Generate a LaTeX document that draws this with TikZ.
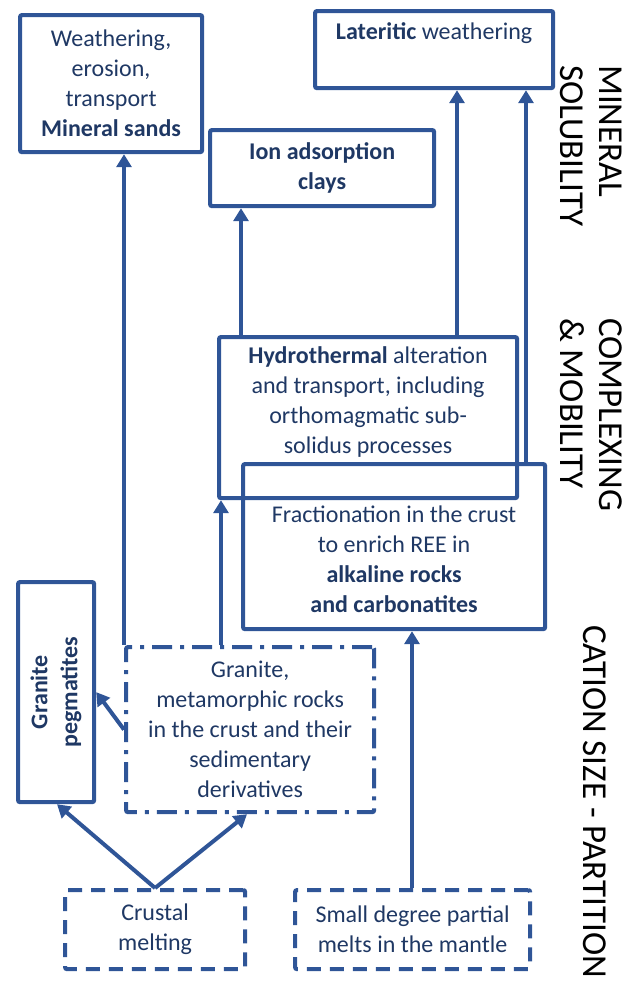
\documentclass[tikz,border=0pt]{standalone}
\usepackage{fontspec}
\setmainfont{Carlito}
\usetikzlibrary{arrows.meta,positioning}

\definecolor{reeblue}{RGB}{47,85,151}
\definecolor{reetext}{RGB}{31,56,100}

\tikzstyle{solidbox} = [draw=reeblue, line width=4.2bp, rectangle,
    rounded corners=2bp, inner sep=0pt, anchor=north west,
    text=reetext, align=center, font=\fontsize{24bp}{30bp}\selectfont]
\tikzstyle{dashbox} = [solidbox, dash pattern=on 14bp off 9bp]
\tikzstyle{dotdashbox} = [solidbox, dash pattern=on 20bp off 8bp on 4bp off 8bp]
\tikzstyle{boxtext} = [text=reetext, align=center, inner sep=0pt,
    font=\fontsize{24bp}{30bp}\selectfont]
\tikzstyle{flow} = [draw=reeblue, line width=4bp,
    -{Triangle[width=15bp,length=13bp]}]
\tikzstyle{sidelabel} = [rotate=-90, anchor=west, align=left, inner sep=0pt,
    font=\fontsize{35bp}{39bp}\selectfont]

\begin{document}
\begin{tikzpicture}[x=1bp, y=-1bp]
    \useasboundingbox (0,0) rectangle (640,982);

%------------ deposit boxes ---------------------
    \node [solidbox, minimum width=182bp, minimum height=137bp] (sands) at (18,13)
        {Weathering,\\erosion,\\transport\\\textbf{Mineral sands}};
    \node [solidbox, minimum width=238bp, minimum height=77bp] (later) at (313,9) {};
    \node [boxtext] at ([yshift=-24bp]later.north) {\textbf{Lateritic} weathering};
    \node [solidbox, minimum width=224bp, minimum height=76bp] (ion) at (208,128)
        {\textbf{Ion adsorption}\\\textbf{clays}};

%------------ magmatic and hydrothermal boxes ---------------------
    \node [solidbox, minimum width=298bp, minimum height=161bp] (hydro) at (217,335) {};
    \node [boxtext] at ([yshift=-67bp]hydro.north)
        {\textbf{Hydrothermal} alteration\\and transport, including\\orthomagmatic sub-\\solidus processes};
    \node [solidbox, minimum width=302bp, minimum height=165bp] (fract) at (241,462) {};
    \node [boxtext] at ([yshift=-97bp]fract.north)
        {Fractionation in the crust\\to enrich REE in\\\textbf{alkaline rocks}\\\textbf{and carbonatites}};
    \node [solidbox, minimum width=76bp, minimum height=220bp] (pegma) at (16,580) {};
    \node [boxtext, rotate=90, font=\fontsize{24bp}{30bp}\selectfont\bfseries] at (pegma.center)
        {Granite\\pegmatites};
    \node [dotdashbox, minimum width=248bp, minimum height=165bp] (rocks) at (124,645)
        {Granite,\\metamorphic rocks\\in the crust and their\\sedimentary\\derivatives};

%------------ sources ---------------------
    \node [dashbox, minimum width=180bp, minimum height=79bp] (crust) at (63,888)
        {Crustal\\melting};
    \node [dashbox, minimum width=235bp, minimum height=79bp] (mantle) at (293,888)
        {Small degree partial\\melts in the mantle};

%------------ arrows ---------------------
    \draw [flow] (rocks.north west) -- (rocks.north west |- sands.south);
    \draw [flow] (221,0 |- rocks.north) -- (221,0 |- hydro.south);
    \draw [flow] (241,0 |- hydro.north) -- (241,0 |- ion.south);
    \draw [flow] (457,0 |- hydro.north) -- (457,0 |- later.south);
    \draw [flow] (526,0 |- fract.north) -- (526,0 |- later.south);
    \draw [flow] (412,0 |- mantle.north) -- (412,0 |- fract.south);
    \draw [flow] (crust.north) -- (57,0 |- pegma.south);
    \draw [flow] (crust.north) -- (247,0 |- rocks.south);
    \draw [flow] (rocks.west) -- (pegma.east);

%------------ controls along the side ---------------------
    \node [sidelabel] (solub) at (591,65) {MINERAL\\SOLUBILITY};
    \node [sidelabel] (mobil) at (591,318) {COMPLEXING\\\& MOBILITY};
    \node [sidelabel] (cation) at (595,625) {CATION SIZE - PARTITION};
\end{tikzpicture}
\end{document}
